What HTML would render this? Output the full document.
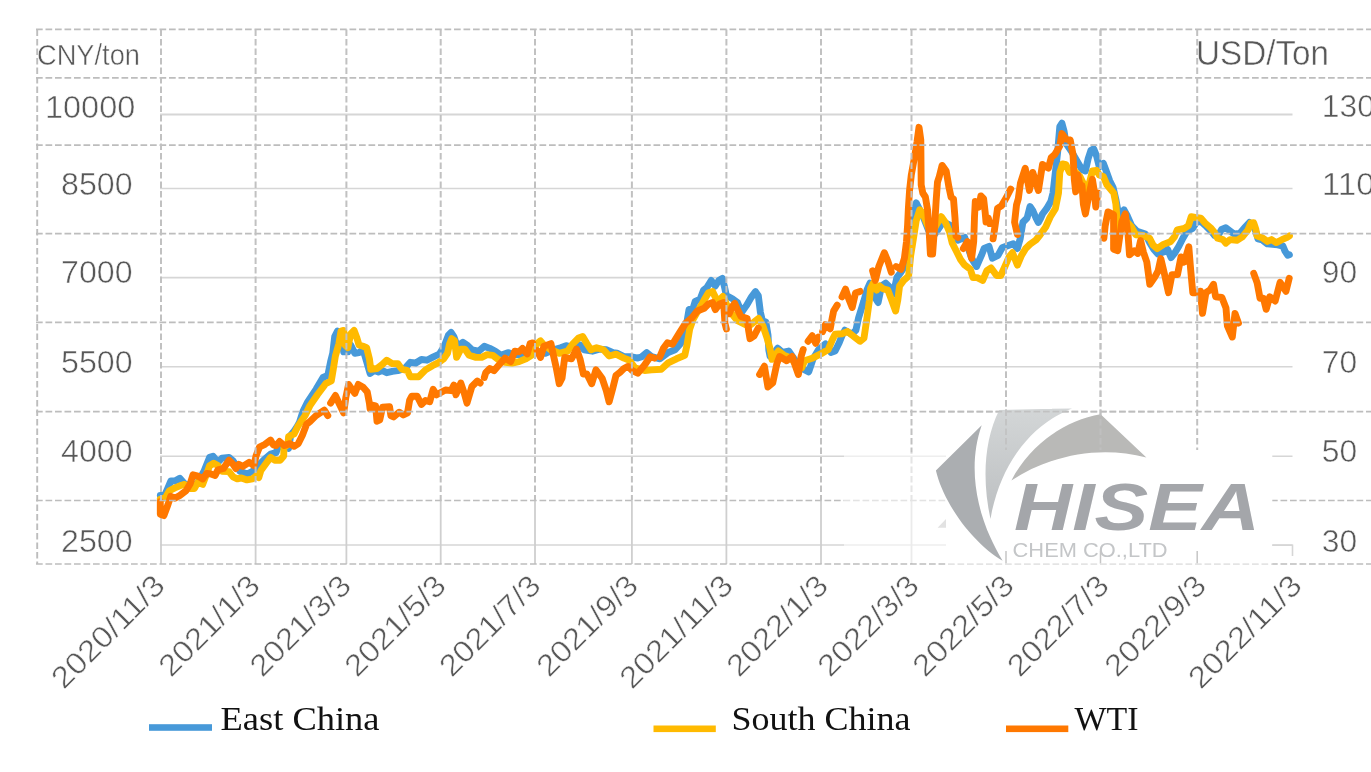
<!DOCTYPE html>
<html><head><meta charset="utf-8"><title>Chart</title>
<style>
html,body{margin:0;padding:0;background:#fff;}
body{width:1371px;height:772px;overflow:hidden;}
svg{display:block}
.ax{font-family:"Liberation Sans",sans-serif;fill:#585858;stroke:#fff;stroke-width:0.5px;}
.lg{font-family:"Liberation Serif",serif;fill:#111;}
.s{fill:none;stroke-linejoin:round;stroke-linecap:round;stroke-width:6.9}
</style></head><body>
<svg width="1371" height="772" viewBox="0 0 1371 772">
<rect width="1371" height="772" fill="#fff"/>
<filter id="soft" x="0" y="0" width="100%" height="100%" filterUnits="userSpaceOnUse" color-interpolation-filters="sRGB"><feGaussianBlur stdDeviation="0.55"/></filter>
<g filter="url(#soft)">

<g stroke="#d6d6d6" stroke-width="1.6" fill="none">
<line x1="160" y1="114.4" x2="1292.5" y2="114.4" stroke-width="2"/>
<line x1="160" y1="188.5" x2="1292.5" y2="188.5"/>
<line x1="160" y1="277.6" x2="1292.5" y2="277.6"/>
<line x1="160" y1="366.7" x2="1292.5" y2="366.7"/>
<line x1="160" y1="456.2" x2="1292.5" y2="456.2"/>
<line x1="160" y1="545" x2="1292.5" y2="545"/>
<line x1="161" y1="500.5" x2="161" y2="564" stroke="#cfcfcf" stroke-width="1.8"/>
<line x1="255.6" y1="500.5" x2="255.6" y2="564" stroke="#cfcfcf" stroke-width="1.8"/>
<line x1="346.4" y1="500.5" x2="346.4" y2="564" stroke="#cfcfcf" stroke-width="1.8"/>
<line x1="440.7" y1="500.5" x2="440.7" y2="564" stroke="#cfcfcf" stroke-width="1.8"/>
<line x1="535" y1="500.5" x2="535" y2="564" stroke="#cfcfcf" stroke-width="1.8"/>
<line x1="631.9" y1="500.5" x2="631.9" y2="564" stroke="#cfcfcf" stroke-width="1.8"/>
<line x1="726.4" y1="500.5" x2="726.4" y2="564" stroke="#cfcfcf" stroke-width="1.8"/>
<line x1="821" y1="500.5" x2="821" y2="564" stroke="#cfcfcf" stroke-width="1.8"/>
<line x1="911.5" y1="500.5" x2="911.5" y2="564" stroke="#cfcfcf" stroke-width="1.8"/>
<line x1="1006" y1="500.5" x2="1006" y2="564" stroke="#cfcfcf" stroke-width="1.8"/>
<line x1="1100.5" y1="500.5" x2="1100.5" y2="564" stroke="#cfcfcf" stroke-width="1.8"/>
<line x1="1197.2" y1="500.5" x2="1197.2" y2="564" stroke="#cfcfcf" stroke-width="1.8"/>
</g>
<path class="s" stroke="#4799D9" d="M160.3,495.5 L164.6,495.5 L167.3,489.3 L170.8,481.0 L174.9,481.0 L179.8,478.2 L184.6,483.7 L190.2,486.5 L197.0,483.7 L204.0,471.3 L209.6,457.4 L213.0,456.3 L217.9,462.3 L222.0,458.1 L229.0,457.4 L233.1,460.9 L240.0,471.3 L247.0,474.0 L252.5,471.3 L258.0,465.7 L263.6,460.2 L270.6,454.0 L276.1,452.6 L278.2,446.3 L283.0,447.0 L288.6,448.4 L290.7,435.2 L294.1,431.1 L296.9,426.9 L299.4,422.5 L302.9,411.5 L307.7,401.8 L316.0,389.3 L323.0,377.5 L327.8,375.4 L330.6,361.6 L332.7,353.3 L334.7,336.6 L337.5,331.1 L341.0,333.9 L343.7,351.9 L347.9,351.9 L350.7,344.9 L354.8,353.3 L359.0,352.6 L363.1,349.8 L366.6,361.6 L370.1,373.4 L374.2,370.6 L378.4,372.0 L382.5,370.6 L386.7,372.7 L392.3,371.3 L397.8,370.6 L404.7,368.5 L410.3,362.3 L415.8,363.0 L421.4,359.5 L426.9,360.2 L432.4,357.4 L439.4,354.0 L444.2,346.3 L448.4,335.2 L451.1,332.5 L453.9,336.6 L457.3,346.3 L462.9,342.2 L467.7,345.6 L471.9,349.8 L478.8,351.2 L484.3,346.3 L489.9,348.4 L495.4,351.2 L501.0,355.3 L507.9,352.6 L513.4,354.6 L523.1,354.6 L534.2,350.5 L545.3,353.3 L553.6,349.8 L560.6,347.7 L566.1,345.6 L571.6,347.0 L580.0,344.9 L584.1,349.8 L592.4,351.2 L599.4,349.1 L606.3,349.8 L613.2,352.6 L616.9,353.2 L623.9,356.7 L630.8,356.7 L637.7,358.1 L641.9,356.7 L646.7,352.5 L651.6,356.7 L659.9,358.8 L668.2,352.5 L675.1,349.8 L680.7,343.5 L684.1,334.5 L686.9,322.0 L689.0,309.6 L693.1,308.2 L695.2,301.3 L700.1,299.2 L703.5,290.2 L707.0,287.4 L711.2,280.5 L715.3,286.0 L718.8,280.5 L722.3,278.4 L724.3,286.0 L726.4,295.7 L732.0,298.5 L737.5,302.6 L741.7,312.3 L746.5,305.4 L751.4,297.1 L755.5,291.6 L758.3,295.7 L760.4,312.3 L762.4,320.7 L765.8,321.9 L768.0,335.0 L768.8,350.0 L770.0,356.0 L772.7,355.1 L777.6,348.2 L782.4,352.4 L788.7,351.0 L793.5,357.9 L800.4,367.6 L808.7,371.8 L812.9,359.3 L818.5,349.6 L825.4,344.0 L830.9,352.4 L835.1,351.0 L839.2,342.7 L842.0,335.7 L844.8,330.2 L851.7,334.3 L855.9,330.2 L858.6,317.7 L863.8,301.1 L867.0,290.0 L870.0,283.1 L874.6,297.0 L878.1,302.5 L881.6,285.9 L885.7,283.1 L891.3,288.7 L893.4,294.2 L896.8,277.6 L901.0,272.1 L906.5,263.7 L910.7,241.6 L913.4,213.9 L916.2,202.8 L923.1,216.6 L928.0,229.0 L932.0,238.0 L937.0,231.0 L943.0,222.0 L949.5,224.9 L957.8,240.2 L964.7,237.4 L971.6,258.2 L976.5,266.5 L981.4,255.4 L984.1,248.5 L989.0,246.4 L992.4,258.2 L998.0,255.4 L1002.1,247.8 L1007.7,245.7 L1013.2,243.7 L1017.4,248.5 L1020.2,238.8 L1022.9,222.2 L1027.1,218.0 L1030.0,206.5 L1033.0,211.0 L1036.0,218.0 L1038.3,222.5 L1040.5,218.5 L1042.5,214.0 L1046.6,208.7 L1050.8,201.5 L1053.0,193.0 L1054.9,176.5 L1057.7,151.6 L1059.8,126.6 L1061.9,123.2 L1064.0,130.8 L1066.0,143.3 L1071.6,151.6 L1077.1,161.3 L1082.0,169.6 L1085.4,171.0 L1088.2,158.5 L1091.0,150.2 L1093.7,148.8 L1096.5,155.7 L1099.3,166.8 L1103.4,163.4 L1106.2,171.0 L1109.7,180.7 L1113.1,187.6 L1116.0,200.0 L1118.5,214.0 L1121.2,214.6 L1124.0,209.8 L1127.4,216.0 L1131.6,225.7 L1137.1,231.3 L1145.4,234.0 L1149.6,242.4 L1153.7,249.3 L1157.9,254.1 L1163.4,252.1 L1167.6,249.3 L1171.1,257.6 L1174.5,253.4 L1178.7,246.5 L1182.9,238.2 L1187.0,231.3 L1192.6,228.5 L1196.7,222.0 L1200.9,221.5 L1206.4,226.5 L1211.9,232.0 L1214.7,235.5 L1217.5,236.5 L1221.6,229.5 L1225.8,227.8 L1230.0,231.0 L1234.1,234.0 L1239.7,233.4 L1245.2,227.1 L1249.4,222.5 L1253.5,226.0 L1256.0,232.0 L1258.0,239.0 L1262.2,240.0 L1267.4,243.9 L1277.7,244.9 L1282.9,246.0 L1285.0,251.1 L1287.8,255.3 L1289.4,254.8"/>
<path class="s" stroke="#FFBA00" d="M160.3,499.0 L165.2,497.9 L169.4,490.7 L174.9,487.9 L179.8,485.8 L184.6,484.4 L190.2,488.6 L194.3,488.6 L197.8,482.4 L202.7,484.4 L206.1,475.4 L209.6,465.7 L213.7,463.2 L217.9,465.5 L222.0,471.3 L229.0,471.6 L233.1,476.8 L237.3,478.9 L241.5,477.9 L247.0,479.9 L252.5,478.9 L256.7,475.4 L258.8,477.5 L260.9,470.6 L266.4,463.0 L270.6,457.4 L274.7,460.2 L280.3,460.2 L283.7,456.0 L283.9,447.7 L287.9,444.3 L288.6,436.6 L294.1,433.9 L298.3,425.5 L299.4,424.0 L305.0,415.6 L309.8,405.9 L317.4,394.8 L325.7,383.7 L331.3,381.0 L333.4,368.5 L335.4,356.0 L338.9,343.6 L341.0,331.1 L343.7,330.4 L345.1,345.0 L347.9,347.7 L350.7,333.9 L354.1,330.4 L356.9,338.0 L359.0,345.0 L363.1,346.3 L366.6,347.7 L369.4,358.8 L370.8,369.2 L377.0,368.5 L382.5,364.3 L386.7,360.2 L392.3,363.6 L397.8,363.6 L401.9,369.2 L407.5,370.6 L410.3,376.8 L418.6,376.8 L425.5,369.9 L432.4,365.7 L438.0,362.9 L443.5,359.0 L447.5,353.3 L449.7,343.6 L451.8,338.7 L454.6,340.8 L456.6,357.4 L460.8,349.1 L464.9,349.1 L469.1,355.3 L476.0,357.4 L481.6,357.4 L487.1,354.6 L492.7,355.3 L498.2,359.5 L505.1,362.3 L512.1,363.0 L519.0,361.6 L525.9,358.8 L531.5,355.3 L537.0,343.6 L540.5,340.8 L543.9,345.0 L550.9,349.8 L559.2,353.3 L567.5,351.2 L573.0,343.6 L578.6,338.0 L582.7,336.6 L586.9,343.6 L591.0,349.8 L596.6,347.7 L603.5,349.8 L609.1,356.0 L616.0,354.2 L623.9,358.1 L629.4,360.2 L634.9,367.8 L644.6,370.5 L651.6,369.9 L661.3,369.2 L668.2,362.9 L676.5,358.8 L684.8,355.3 L686.9,345.6 L689.7,329.0 L693.1,319.3 L698.7,309.6 L704.2,299.9 L708.4,292.9 L712.6,291.6 L716.7,299.9 L719.5,299.9 L722.9,296.4 L726.4,304.0 L730.6,312.3 L737.5,320.7 L743.0,323.4 L748.6,326.2 L754.1,322.0 L758.6,318.4 L763.0,326.0 L767.2,338.5 L769.9,348.2 L772.0,359.3 L778.3,351.0 L783.8,355.1 L790.7,357.9 L796.3,364.8 L801.8,367.6 L804.6,360.7 L812.9,357.9 L821.2,353.7 L828.2,349.6 L832.3,339.9 L835.1,334.3 L842.0,333.7 L847.6,331.6 L854.5,337.1 L860.0,341.3 L864.0,338.0 L867.0,317.7 L869.3,301.1 L870.6,288.3 L873.3,283.1 L876.7,290.1 L879.5,285.9 L883.0,288.7 L887.8,290.1 L892.0,301.0 L895.6,311.0 L897.8,300.0 L899.6,285.9 L903.7,280.4 L908.6,276.2 L910.7,255.4 L913.4,238.8 L916.2,220.8 L919.7,209.7 L923.1,213.9 L927.0,224.0 L931.0,233.0 L934.0,229.0 L937.0,223.6 L941.2,216.6 L945.3,222.2 L949.5,231.9 L952.2,243.0 L956.4,251.3 L960.6,259.6 L964.7,265.1 L970.3,269.3 L973.0,277.6 L977.2,277.6 L982.7,280.4 L986.9,270.7 L991.1,267.9 L996.6,275.5 L1000.8,275.5 L1004.9,266.5 L1009.1,256.8 L1012.5,252.7 L1017.4,265.1 L1021.5,255.4 L1025.7,248.5 L1030.0,244.3 L1036.0,240.0 L1040.0,235.0 L1045.7,227.0 L1050.2,217.0 L1055.4,208.7 L1058.5,193.0 L1059.8,172.4 L1062.6,164.0 L1066.0,164.7 L1069.5,172.4 L1074.3,171.0 L1079.9,176.5 L1084.0,184.8 L1086.8,190.4 L1089.6,182.1 L1092.4,171.0 L1096.5,170.3 L1099.3,175.1 L1103.4,176.5 L1106.9,184.8 L1110.4,189.0 L1113.8,193.1 L1115.9,204.2 L1117.0,218.8 L1119.0,228.0 L1124.0,224.0 L1128.0,223.0 L1131.6,227.1 L1135.7,234.7 L1142.7,235.4 L1149.6,238.2 L1153.1,245.1 L1157.2,248.6 L1163.4,244.4 L1170.4,241.7 L1174.5,236.8 L1177.3,229.9 L1184.2,228.5 L1188.4,225.7 L1191.2,216.7 L1195.3,217.4 L1200.9,218.1 L1205.0,223.0 L1210.6,227.8 L1214.7,232.7 L1217.5,238.2 L1223.0,239.6 L1225.8,243.2 L1230.0,239.6 L1236.9,240.3 L1242.4,236.8 L1248.0,229.9 L1250.8,223.0 L1253.7,222.8 L1255.8,229.0 L1257.0,236.0 L1262.0,237.6 L1267.4,241.4 L1271.5,239.6 L1276.2,242.6 L1281.9,239.7 L1286.6,237.7 L1289.4,235.8"/>
<path class="s" stroke="#FF7800" d="M160.3,501.8 L160.3,514.2 L163.9,515.6 L168.0,504.5 L170.8,496.2 L174.9,498.3 L179.8,495.5 L186.0,490.7 L190.2,483.7 L193.0,474.7 L197.8,476.1 L202.7,478.9 L206.8,473.4 L211.0,474.0 L215.1,475.4 L217.9,469.9 L223.4,468.5 L229.0,460.2 L233.1,464.3 L235.9,468.5 L238.7,464.3 L242.8,466.4 L249.1,462.3 L253.9,465.7 L256.0,456.0 L259.5,447.0 L265.0,444.3 L270.6,440.1 L273.3,444.9 L276.1,445.6 L279.6,441.5 L284.4,445.6 L290.0,443.6 L294.1,446.3 L298.3,443.6 L302.4,435.2 L306.6,424.2 L310.0,421.5 L316.0,415.6 L324.3,410.1 L327.8,415.6 M330.6,403.1 L335.4,395.5 L339.6,404.5 L343.7,412.9 L345.8,397.6 L348.6,384.4 L354.8,393.4 L358.3,384.4 L363.1,387.2 L367.3,392.1 L369.4,403.1 L370.1,408.7 L372.2,405.2 L375.6,405.9 L377.0,421.2 L379.8,419.8 L382.5,407.3 L389.5,406.6 L390.9,415.6 L393.6,417.0 L399.2,412.2 L403.3,415.0 L407.5,412.9 L409.6,400.4 L411.7,396.2 L417.2,396.2 L421.4,404.5 L425.5,400.4 L429.7,401.8 L433.1,389.3 L436.6,394.8 L440.8,392.5 L445.5,390.0 L451.1,390.7 L453.9,385.1 L455.9,394.8 L460.8,383.0 L464.3,393.4 L467.0,403.1 L471.9,386.5 L477.4,381.0 L480.2,383.0 M484.3,377.5 L485.7,372.7 L489.9,368.5 L494.0,370.6 L499.6,364.3 L505.1,358.1 L510.7,361.6 L514.8,351.2 L519.0,351.9 L522.5,348.4 L527.3,353.9 L530.1,343.6 L532.8,342.9 M537.0,350.5 L540.5,357.4 L543.9,346.3 L550.9,343.6 L553.6,356.0 L556.4,368.5 L559.2,383.7 L562.0,378.2 L564.7,357.4 L571.6,358.8 L576.5,349.1 L580.0,358.8 L583.4,374.0 L586.9,374.0 L591.7,383.7 L595.9,369.9 L602.1,378.2 L606.3,390.7 L609.1,401.8 L612.5,389.3 L616.0,375.4 L620.1,372.2 L623.9,368.5 L628.0,366.4 L632.2,370.5 L637.7,373.3 L644.6,365.0 L650.2,356.7 L654.3,358.1 M659.9,356.7 L663.4,348.4 L667.5,342.8 L672.4,344.2 L679.3,333.1 L685.5,323.4 L691.8,317.9 L697.3,311.0 L704.2,308.2 L708.4,304.0 L712.6,302.6 L715.3,309.6 L719.5,304.0 L723.6,302.6 L725.0,323.4 L726.4,329.0 M729.2,313.7 L732.0,306.8 L734.7,303.3 L737.5,309.6 L741.0,316.5 L747.2,318.6 L748.6,330.4 L750.0,338.7 L754.1,335.9 L758.3,328.0 M759.6,374.5 L764.4,366.2 L767.9,387.0 L772.7,382.9 L776.9,363.4 L779.6,356.5 L786.6,360.7 L792.1,356.5 L798.4,374.5 L801.1,356.5 L803.2,349.6 M808.1,341.3 L812.2,335.7 L815.7,343.4 L818.5,337.1 M822.6,331.6 L825.4,324.6 L830.2,328.8 L832.3,317.7 L833.7,310.8 L837.2,305.2 M842.0,296.9 L845.5,289.2 L848.6,298.5 L852.2,307.5 L855.5,293.0 L860.0,291.4 M872.6,270.7 L875.3,280.4 L878.8,266.5 L884.3,252.7 L887.8,261.0 L891.3,272.1 M896.1,266.5 L901.0,269.3 L904.4,258.2 L906.5,241.6 L907.6,225.0 L908.4,208.0 L909.6,190.0 L911.3,175.0 L914.0,160.0 L917.0,142.0 L919.0,127.3 L920.8,140.0 L921.2,185.0 L922.8,193.0 L925.4,197.0 L927.6,210.0 L929.4,236.0 L930.4,254.0 L932.6,254.0 L934.5,228.0 L936.2,200.0 L937.5,182.1 L939.3,176.5 L942.1,165.4 L946.2,171.0 L949.0,187.6 L951.1,197.3 L953.5,199.0 L955.0,218.0 L956.0,236.0 L957.8,237.4 M963.3,248.5 L967.5,241.6 L971.6,258.2 L973.7,241.6 L974.5,217.0 L975.3,201.5 L978.8,207.0 L980.9,195.9 L983.6,198.7 L985.2,212.6 L986.0,222.0 L988.3,218.0 L989.7,223.6 M993.1,238.8 L995.2,224.9 L997.5,208.4 L1001.7,205.6 L1006.5,197.3 L1010.7,189.0 M1017.4,234.6 L1014.6,222.2 L1016.5,205.0 L1018.3,198.7 L1020.4,183.4 L1025.2,168.2 L1029.4,190.4 L1032.8,172.4 L1038.4,190.4 L1042.5,164.5 L1048.4,168.2 L1051.2,157.5 L1054.9,154.3 L1059.8,146.0 L1061.9,133.6 L1066.0,139.1 L1070.2,139.8 L1073.0,154.3 L1074.3,179.3 L1075.7,191.8 L1077.8,175.0 L1079.9,184.8 L1082.0,185.5 L1083.4,204.2 L1085.4,213.9 L1088.2,198.7 L1092.4,179.3 L1093.7,187.6 L1095.8,207.0 L1097.9,193.1 M1103.9,238.2 L1105.2,225.7 L1108.0,211.9 L1113.6,214.6 L1113.6,249.3 L1117.7,250.7 L1121.9,221.6 L1125.3,213.9 L1128.1,235.4 L1129.5,254.8 L1134.3,250.7 L1137.8,253.4 L1140.6,240.5 L1143.4,252.1 L1146.8,262.0 L1149.8,284.3 L1154.6,277.4 L1158.1,271.0 L1160.8,258.5 L1164.3,273.3 L1168.5,292.7 L1172.0,274.6 L1177.5,274.6 L1181.0,257.0 L1184.4,262.0 L1188.8,246.7 L1190.7,270.0 L1192.8,292.7 L1195.5,292.7 M1200.4,291.3 L1202.5,313.4 L1205.9,292.7 L1210.1,289.9 L1213.5,284.3 L1215.6,296.8 L1221.9,297.5 L1226.0,307.9 L1227.4,325.9 L1232.3,337.0 L1235.0,313.4 L1238.5,323.1 M1253.7,273.3 L1257.2,283.0 L1260.0,298.2 L1263.4,298.2 L1266.2,309.3 L1269.7,296.8 L1275.2,301.0 L1280.1,282.3 L1286.0,291.3 L1289.2,278.3"/>
<g id="dg" stroke="#bdbdbd" stroke-width="1.7" fill="none" stroke-dasharray="6.7 2.8">
<line x1="36" y1="29.4" x2="1371" y2="29.4"/>
<line x1="36" y1="77.8" x2="1371" y2="77.8"/>
<line x1="36" y1="145.1" x2="1371" y2="145.1"/>
<line x1="36" y1="233.7" x2="1371" y2="233.7"/>
<line x1="36" y1="322.3" x2="1371" y2="322.3"/>
<line x1="36" y1="411.7" x2="1371" y2="411.7"/>
<line x1="36" y1="500.5" x2="1371" y2="500.5"/>
<line x1="36" y1="564" x2="1371" y2="564"/>
<line x1="37.2" y1="29.4" x2="37.2" y2="564" stroke-width="1.9"/>
<line x1="161" y1="29.4" x2="161" y2="500.5" stroke-width="2" stroke="#c1c1c1"/>
<line x1="255.6" y1="29.4" x2="255.6" y2="500.5" stroke-width="2" stroke="#c1c1c1"/>
<line x1="346.4" y1="29.4" x2="346.4" y2="500.5" stroke-width="2" stroke="#c1c1c1"/>
<line x1="440.7" y1="29.4" x2="440.7" y2="500.5" stroke-width="2" stroke="#c1c1c1"/>
<line x1="535" y1="29.4" x2="535" y2="500.5" stroke-width="2" stroke="#c1c1c1"/>
<line x1="631.9" y1="29.4" x2="631.9" y2="500.5" stroke-width="2" stroke="#c1c1c1"/>
<line x1="726.4" y1="29.4" x2="726.4" y2="500.5" stroke-width="2" stroke="#c1c1c1"/>
<line x1="821" y1="29.4" x2="821" y2="500.5" stroke-width="2" stroke="#c1c1c1"/>
<line x1="911.5" y1="29.4" x2="911.5" y2="500.5" stroke-width="2" stroke="#c1c1c1"/>
<line x1="1006" y1="29.4" x2="1006" y2="500.5" stroke-width="2" stroke="#c1c1c1"/>
<line x1="1100.5" y1="29.4" x2="1100.5" y2="500.5" stroke-width="2" stroke="#c1c1c1"/>
<line x1="1197.2" y1="29.4" x2="1197.2" y2="500.5" stroke-width="2" stroke="#c1c1c1"/>
</g>
<rect x="844" y="452.5" width="102" height="110.5" fill="#fff" fill-opacity="0.58"/>
<rect x="946" y="450" width="326.3" height="113.5" fill="#fff"/>
<rect x="946" y="563.5" width="326.3" height="1.6" fill="#fff" fill-opacity="0.45"/>
<polygon points="937.6,527.8 946,519 946,527.8" fill="#e2e2e2"/>
<g>
<path d="M981.7,425.3 L935.9,470.5 C944,505 975,545 1002.6,560.8 C978,520 966,470 981.7,425.3 Z" fill="#abaeb1"/>
<linearGradient id="g2" x1="0" y1="0" x2="0" y2="1"><stop offset="0" stop-color="#d3d6d7"/><stop offset="1" stop-color="#bcbfc1"/></linearGradient>
<path d="M999.3,409.9 L1072,408.4 C1030,425 1000,465 990.5,519 C982,480 984,440 999.3,409.9 Z" fill="url(#g2)"/>
<path d="M1011.4,480.4 C1030,445 1065,420 1100.6,414.3 L1146.4,457.5 C1100,445 1050,455 1011.4,480.4 Z" fill="#b9b9b7"/>
<text x="1014" y="530.4" font-family="'Liberation Sans',sans-serif" font-weight="bold" font-style="italic" font-size="67" fill="#a4a6aa" textLength="246" lengthAdjust="spacingAndGlyphs">HISEA</text>
<text x="1012.6" y="557" font-family="'Liberation Sans',sans-serif" font-size="20" fill="#c4c6c8" textLength="155" lengthAdjust="spacingAndGlyphs">CHEM CO.,LTD</text>
</g>
<clipPath id="cp"><rect x="930" y="0" width="230" height="450"/></clipPath><use href="#dg" clip-path="url(#cp)" opacity="0.8"/>
<path d="M1272.3,545.3 H1292.5 V556" stroke="#d6d6d6" stroke-width="1.6" fill="none"/>
<path d="M1006,551 V563.3 M1100.5,551 V563.3 M1197.2,551 V563.3" stroke="#c6c6c6" stroke-width="1.5" fill="none"/>
<text class="ax" x="37" y="65.3" font-size="29.2" text-anchor="start" textLength="103" lengthAdjust="spacingAndGlyphs">CNY/ton</text>
<text class="ax" x="1196" y="64.9" font-size="35" text-anchor="start" textLength="133" lengthAdjust="spacingAndGlyphs">USD/Ton</text>
<text class="ax" x="45" y="117.5" font-size="30.5" text-anchor="start" textLength="90.3" lengthAdjust="spacingAndGlyphs">10000</text>
<text class="ax" x="61.1" y="195.1" font-size="30.5" text-anchor="start" textLength="71.5" lengthAdjust="spacingAndGlyphs">8500</text>
<text class="ax" x="61.1" y="282.9" font-size="30.5" text-anchor="start" textLength="71.5" lengthAdjust="spacingAndGlyphs">7000</text>
<text class="ax" x="61.1" y="372.5" font-size="30.5" text-anchor="start" textLength="71.5" lengthAdjust="spacingAndGlyphs">5500</text>
<text class="ax" x="61.1" y="461.9" font-size="30.5" text-anchor="start" textLength="71.5" lengthAdjust="spacingAndGlyphs">4000</text>
<text class="ax" x="61.1" y="552.1999999999999" font-size="30.5" text-anchor="start" textLength="71.5" lengthAdjust="spacingAndGlyphs">2500</text>
<text class="ax" x="1321.8" y="117.30000000000001" font-size="30.5" text-anchor="start" textLength="53.099999999999994" lengthAdjust="spacingAndGlyphs">130</text>
<text class="ax" x="1321.8" y="195.1" font-size="30.5" text-anchor="start" textLength="53.099999999999994" lengthAdjust="spacingAndGlyphs">110</text>
<text class="ax" x="1321.8" y="282.9" font-size="30.5" text-anchor="start" textLength="35.4" lengthAdjust="spacingAndGlyphs">90</text>
<text class="ax" x="1321.8" y="372.5" font-size="30.5" text-anchor="start" textLength="35.4" lengthAdjust="spacingAndGlyphs">70</text>
<text class="ax" x="1321.8" y="461.9" font-size="30.5" text-anchor="start" textLength="35.4" lengthAdjust="spacingAndGlyphs">50</text>
<text class="ax" x="1321.8" y="552.1999999999999" font-size="30.5" text-anchor="start" textLength="35.4" lengthAdjust="spacingAndGlyphs">30</text>
<text class="ax" font-size="30.3" text-anchor="end" textLength="145.5" lengthAdjust="spacingAndGlyphs" transform="translate(166.7,587.4) rotate(-45)">2020/11/3</text>
<text class="ax" font-size="30.3" text-anchor="end" textLength="128.5" lengthAdjust="spacingAndGlyphs" transform="translate(261.8,587.4) rotate(-45)">2021/1/3</text>
<text class="ax" font-size="30.3" text-anchor="end" textLength="128.5" lengthAdjust="spacingAndGlyphs" transform="translate(353.0,587.4) rotate(-45)">2021/3/3</text>
<text class="ax" font-size="30.3" text-anchor="end" textLength="128.5" lengthAdjust="spacingAndGlyphs" transform="translate(447.8,587.4) rotate(-45)">2021/5/3</text>
<text class="ax" font-size="30.3" text-anchor="end" textLength="128.5" lengthAdjust="spacingAndGlyphs" transform="translate(542.5,587.4) rotate(-45)">2021/7/3</text>
<text class="ax" font-size="30.3" text-anchor="end" textLength="128.5" lengthAdjust="spacingAndGlyphs" transform="translate(639.9,587.4) rotate(-45)">2021/9/3</text>
<text class="ax" font-size="30.3" text-anchor="end" textLength="145.5" lengthAdjust="spacingAndGlyphs" transform="translate(734.8,587.4) rotate(-45)">2021/11/3</text>
<text class="ax" font-size="30.3" text-anchor="end" textLength="128.5" lengthAdjust="spacingAndGlyphs" transform="translate(829.9,587.4) rotate(-45)">2022/1/3</text>
<text class="ax" font-size="30.3" text-anchor="end" textLength="128.5" lengthAdjust="spacingAndGlyphs" transform="translate(920.8,587.4) rotate(-45)">2022/3/3</text>
<text class="ax" font-size="30.3" text-anchor="end" textLength="128.5" lengthAdjust="spacingAndGlyphs" transform="translate(1015.8,587.4) rotate(-45)">2022/5/3</text>
<text class="ax" font-size="30.3" text-anchor="end" textLength="128.5" lengthAdjust="spacingAndGlyphs" transform="translate(1110.7,587.4) rotate(-45)">2022/7/3</text>
<text class="ax" font-size="30.3" text-anchor="end" textLength="128.5" lengthAdjust="spacingAndGlyphs" transform="translate(1207.9,587.4) rotate(-45)">2022/9/3</text>
<text class="ax" font-size="30.3" text-anchor="end" textLength="145.5" lengthAdjust="spacingAndGlyphs" transform="translate(1303.6,587.4) rotate(-45)">2022/11/3</text>
<rect x="149" y="724.2" width="63" height="6.6" fill="#4799D9"/>
<rect x="653.5" y="725.5" width="62.3" height="6.6" fill="#FFBA00"/>
<rect x="1006" y="725.5" width="62.3" height="6.6" fill="#FF7800"/>
<text class="lg" x="220.5" y="729.8" font-size="33" text-anchor="start" textLength="159" lengthAdjust="spacingAndGlyphs">East China</text>
<text class="lg" x="731.5" y="730.4" font-size="33" text-anchor="start" textLength="179" lengthAdjust="spacingAndGlyphs">South China</text>
<text class="lg" x="1074.5" y="730.4" font-size="33" text-anchor="start" textLength="64" lengthAdjust="spacingAndGlyphs">WTI</text>
</g></svg></body></html>
